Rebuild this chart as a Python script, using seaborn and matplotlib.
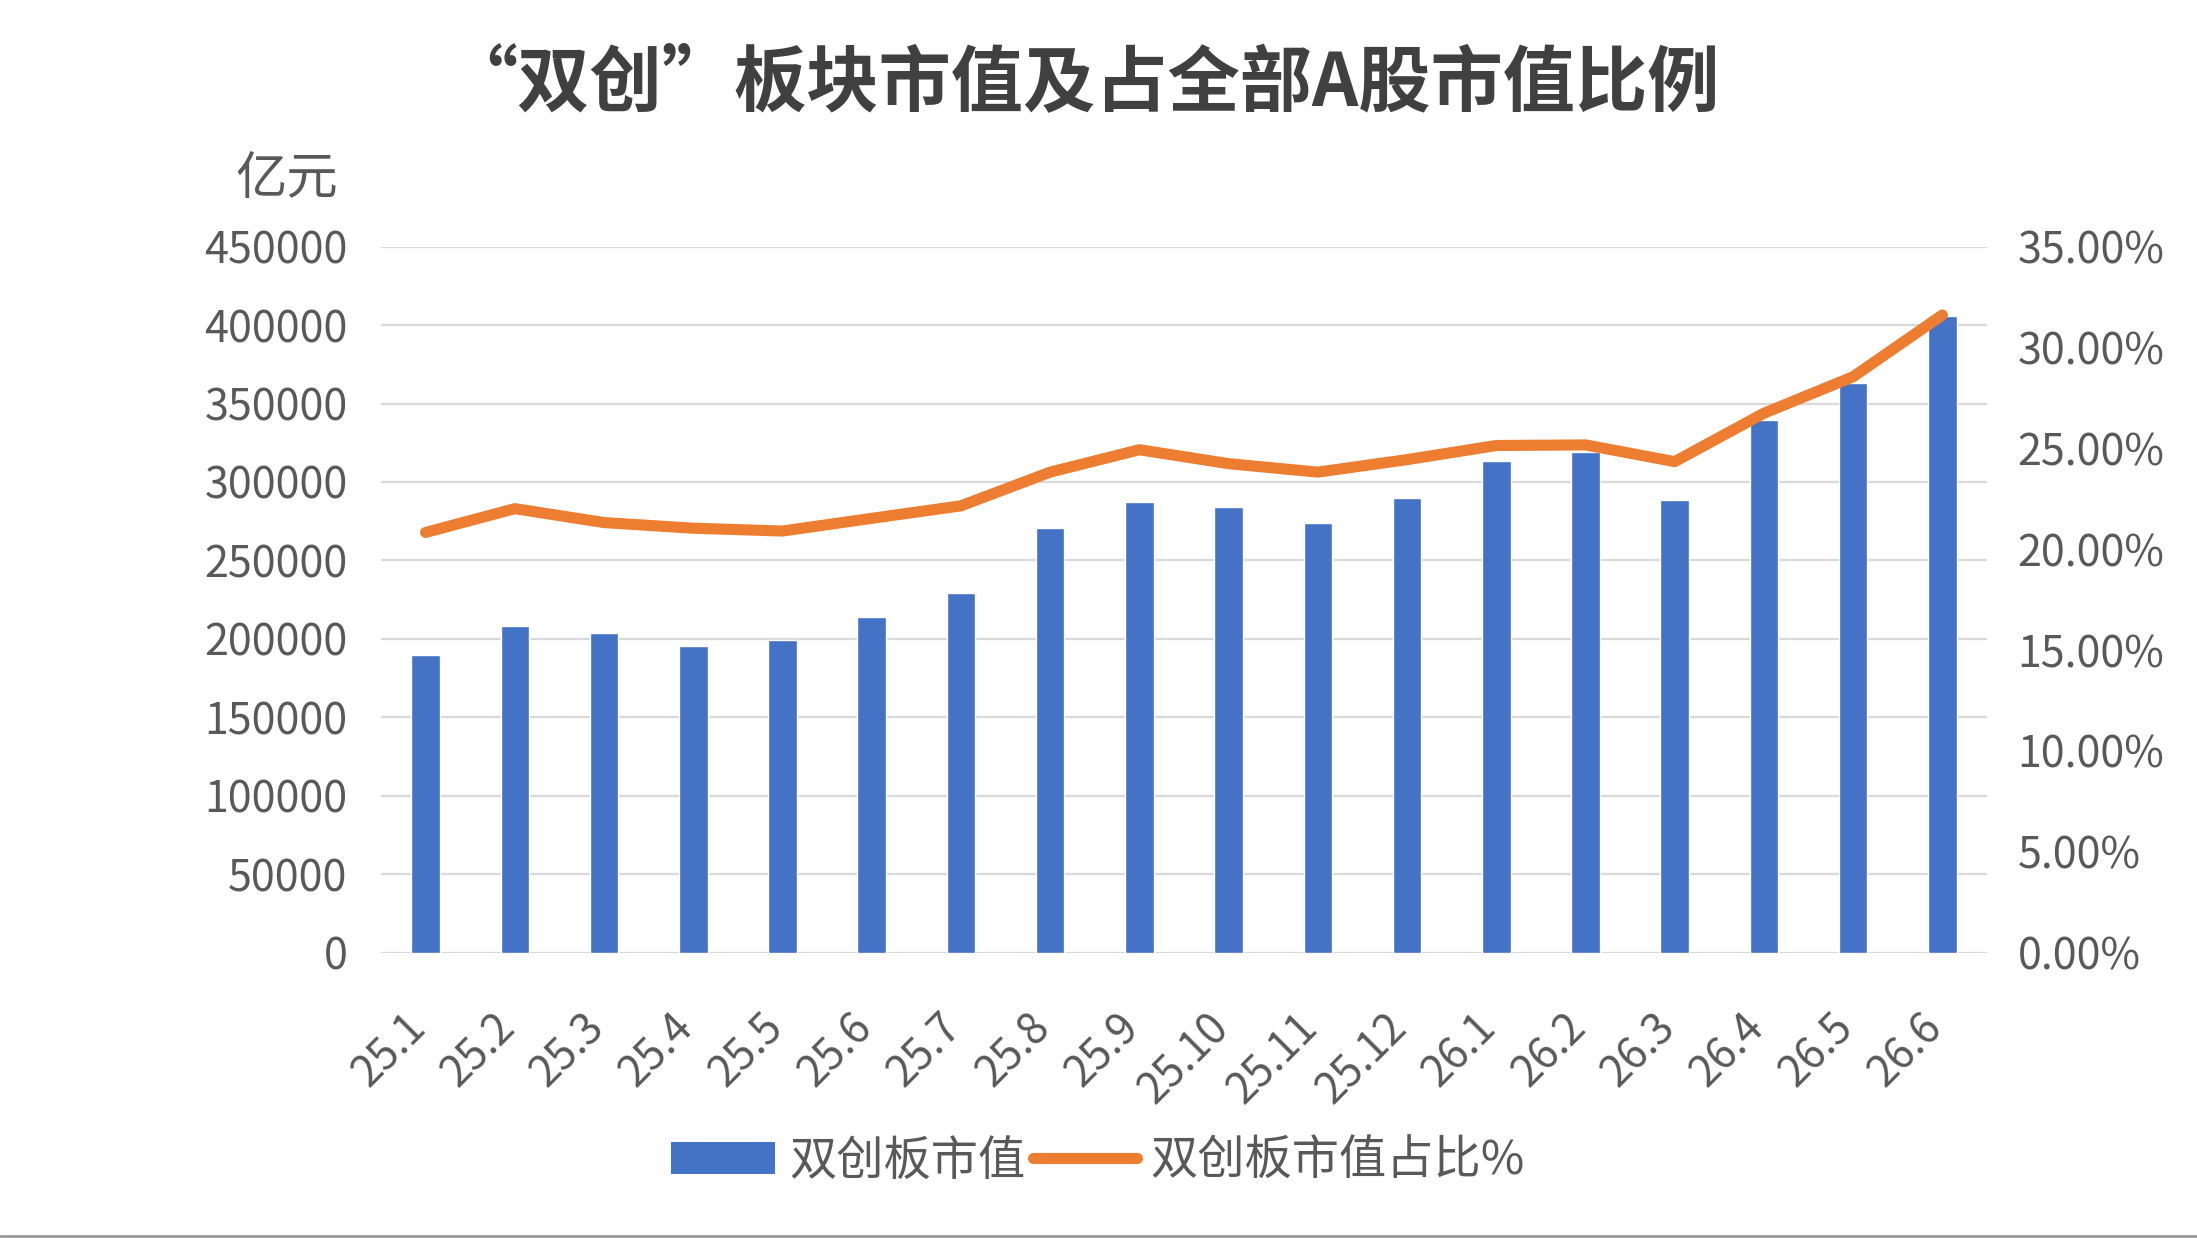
import numpy as np
import pandas as pd
import matplotlib
matplotlib.use("Agg")
import matplotlib.pyplot as plt
import matplotlib.transforms as mtransforms
from matplotlib.patches import Patch
from matplotlib.lines import Line2D
import seaborn as sns

months = ["25.1", "25.2", "25.3", "25.4", "25.5", "25.6", "25.7", "25.8", "25.9",
          "25.10", "25.11", "25.12", "26.1", "26.2", "26.3", "26.4", "26.5", "26.6"]
market_cap = [190000, 208000, 203500, 195500, 199000, 214000, 229500, 270500, 287500,
              284000, 274000, 289500, 313500, 319000, 288500, 339500, 363000, 405500]
share_pct = [20.83, 22.01, 21.32, 21.04, 20.90, 21.53, 22.15, 23.82, 24.93,
             24.24, 23.82, 24.44, 25.14, 25.17, 24.34, 26.74, 28.55, 31.61]

left_ticks = [0, 50000, 100000, 150000, 200000, 250000, 300000, 350000, 400000, 450000]
right_ticks = [0, 5, 10, 15, 20, 25, 30, 35]

bar_color = "#4472C4"
line_color = "#ED7D31"
text_color = "#595959"

sns.set_theme(style="white")
plt.rcParams["font.family"] = ["Noto Sans CJK SC", "DejaVu Sans"]

df = pd.DataFrame({"month": months, "cap": market_cap, "pct": share_pct})
df["pos"] = np.arange(len(df))

fig = plt.figure(figsize=(21.97, 12.38), dpi=100)
ax = fig.add_axes([0.1734, 0.2305, 0.731, 0.5703])

# bars: market cap (left axis)
sns.barplot(data=df, x="month", y="cap", color=bar_color, width=0.32,
            saturation=1, ax=ax)
ax.set_ylim(0, 450000)
ax.set_xlim(-0.5, len(months) - 0.5)
ax.set_yticks(left_ticks)
ax.set_yticklabels([str(v) for v in left_ticks])
ax.yaxis.grid(True, color="#d9d9d9", linewidth=1.6)
ax.set_axisbelow(True)
ax.set_xlabel("")
ax.set_ylabel("")
for s in ax.spines.values():
    s.set_visible(False)
ax.tick_params(axis="y", length=0, labelsize=31, labelcolor=text_color, pad=24)
ax.tick_params(axis="x", length=0, labelsize=31, labelcolor=text_color, pad=38)
for lab in ax.get_xticklabels():
    lab.set_rotation(45)
    lab.set_ha("right")
    lab.set_rotation_mode("anchor")
    lab.set_transform(lab.get_transform() + mtransforms.ScaledTranslation(-0.22, 0, fig.dpi_scale_trans))

# line: share of A-share market (right axis)
ax2 = ax.twinx()
sns.lineplot(data=df, x="pos", y="pct", color=line_color, linewidth=8,
             sort=False, ax=ax2, solid_capstyle="round", solid_joinstyle="round")
ax2.set_ylim(0, 35)
ax2.set_xlim(-0.5, len(months) - 0.5)
ax2.set_yticks(right_ticks)
ax2.set_yticklabels([f"{v:.2f}%" for v in right_ticks])
ax2.set_ylabel("")
ax2.grid(False)
for s in ax2.spines.values():
    s.set_visible(False)
ax2.tick_params(axis="y", length=0, labelsize=31, labelcolor=text_color, pad=22)

fig.text(0.4925, 0.932, "“双创”板块市值及占全部A股市值比例", ha="center", va="center",
         fontsize=52, fontweight="bold", color="#404040")
fig.text(0.1306, 0.855, "亿元", ha="center", va="center", fontsize=37, color=text_color)

handles = [Patch(facecolor=bar_color, edgecolor="none"),
           Line2D([0], [0], color=line_color, linewidth=8, solid_capstyle="round")]
fig.legend(handles, ["双创板市值", "双创板市值占比%"], loc="center",
           bbox_to_anchor=(0.4999, 0.062), ncol=2, frameon=False, fontsize=34,
           handlelength=2.2, handleheight=0.66, handletextpad=0.3, columnspacing=0.15,
           labelcolor=text_color)

fig.add_artist(Line2D([0, 1], [0.002, 0.002], color="#9a9a9a", linewidth=2,
                      transform=fig.transFigure))

fig.savefig("out.png", dpi=100, facecolor="white")
